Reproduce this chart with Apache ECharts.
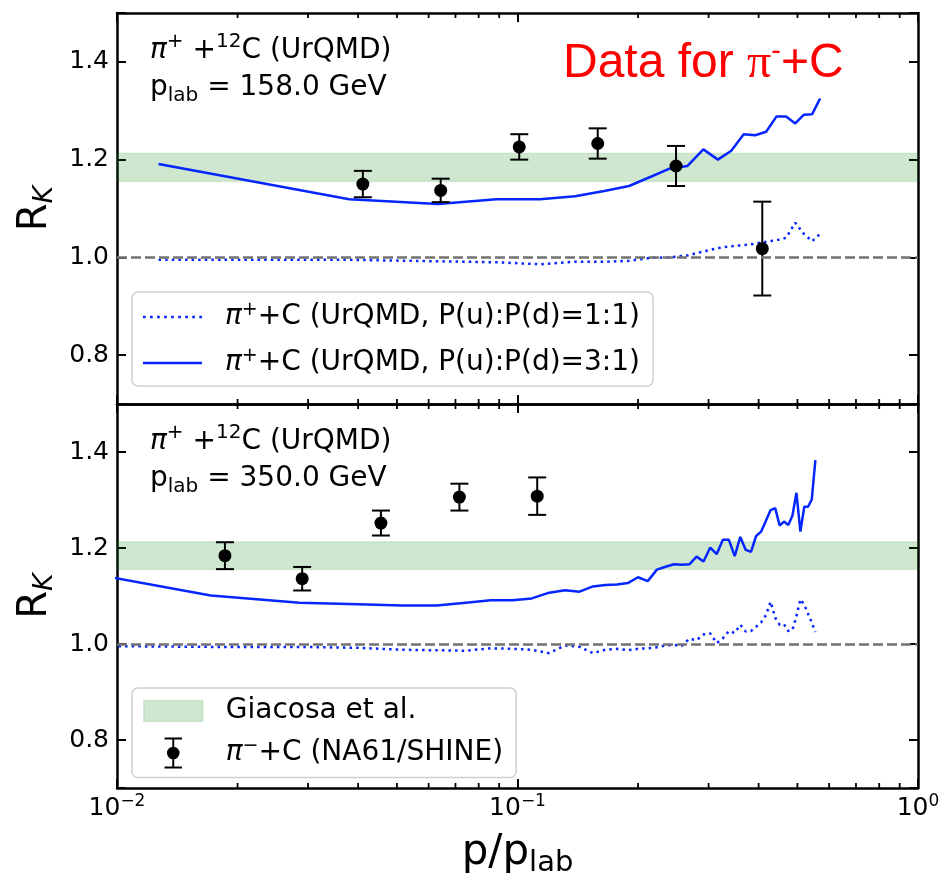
<!DOCTYPE html>
<html>
<head>
<meta charset="utf-8">
<script src="https://cdn.jsdelivr.net/npm/echarts@6/dist/echarts.min.js"></script>
<style>
  html, body { margin: 0; padding: 0; background: #ffffff; }
  #chart { width: 945px; height: 879px; }
</style>
</head>
<body>
<div id="chart"></div>
<script>
// ---------------- data ----------------
// UrQMD pi+ + C at 158 GeV: bin centres in p/p_lab
const xUrqmd158 = [0.0127, 0.0380, 0.0633, 0.0886, 0.1139, 0.1392, 0.1646, 0.1899, 0.2152, 0.2405,
  0.2658, 0.2911, 0.3165, 0.3418, 0.3671, 0.3924, 0.4177, 0.4430, 0.4684, 0.4937, 0.5190, 0.5443, 0.5696];
// R_K with P(u):P(d) = 1:1
const rk158Equal = [0.995, 0.995, 0.992, 0.990, 0.986, 0.991, 0.991, 0.993, 0.999, 1.000,
  1.004, 1.012, 1.019, 1.023, 1.025, 1.028, 1.032, 1.035, 1.040, 1.071, 1.048, 1.033, 1.048];
// R_K with P(u):P(d) = 3:1
const rk158Skewed = [1.191, 1.119, 1.109, 1.119, 1.119, 1.125, 1.136, 1.146, 1.165, 1.182,
  1.187, 1.221, 1.200, 1.218, 1.252, 1.250, 1.257, 1.288, 1.288, 1.274, 1.292, 1.293, 1.325];

// UrQMD pi+ + C at 350 GeV
const xUrqmd350 = [0.00571, 0.01714, 0.02857, 0.04000, 0.05143, 0.06286, 0.07429, 0.08571, 0.09714, 0.10857,
  0.12000, 0.13143, 0.14286, 0.15429, 0.16571, 0.17714, 0.18857, 0.20000, 0.21143, 0.22286,
  0.23429, 0.24571, 0.25714, 0.26857, 0.28000, 0.29143, 0.30286, 0.31429, 0.32571, 0.33714,
  0.34857, 0.36000, 0.37143, 0.38286, 0.39429, 0.40571, 0.41714, 0.42857, 0.44000, 0.45143,
  0.46286, 0.47429, 0.48571, 0.49714, 0.50857, 0.52000, 0.53143, 0.54286, 0.55429];
const rk350Equal = [0.997, 0.994, 0.994, 0.992, 0.988, 0.987, 0.986, 0.991, 0.990, 0.988,
  0.981, 0.997, 0.994, 0.981, 0.988, 0.990, 0.987, 0.990, 0.991, 0.993,
  0.997, 0.998, 0.996, 1.011, 1.008, 1.020, 1.022, 1.002, 1.012, 1.027,
  1.023, 1.040, 1.026, 1.027, 1.036, 1.045, 1.060, 1.088, 1.055, 1.040,
  1.041, 1.027, 1.029, 1.058, 1.093, 1.082, 1.063, 1.045, 1.025];
const rk350Skewed = [1.174, 1.101, 1.086, 1.083, 1.080, 1.080, 1.086, 1.091, 1.091, 1.095,
  1.107, 1.112, 1.109, 1.120, 1.123, 1.124, 1.127, 1.139, 1.131, 1.155,
  1.161, 1.166, 1.165, 1.166, 1.182, 1.172, 1.201, 1.187, 1.217, 1.217,
  1.183, 1.223, 1.196, 1.192, 1.225, 1.234, 1.257, 1.279, 1.283, 1.247,
  1.255, 1.248, 1.267, 1.315, 1.234, 1.286, 1.286, 1.301, 1.383];

// NA61/SHINE pi- + C measurements
const xNa61_158 = [0.0411, 0.0643, 0.1010, 0.1586, 0.2488, 0.4085];
const rkNa61_158 = [1.150, 1.137, 1.226, 1.233, 1.187, 1.018];
const errNa61_158 = [0.027, 0.024, 0.026, 0.031, 0.041, 0.096];
const xNa61_350 = [0.0186, 0.0290, 0.0456, 0.0716, 0.1120];
const rkNa61_350 = [1.184, 1.136, 1.252, 1.306, 1.308];
const errNa61_350 = [0.028, 0.0245, 0.026, 0.028, 0.039];

// Giacosa et al. prediction band and the R_K = 1 reference
const giacosaBand = [1.155, 1.213];
const referenceLevel = 1.0;

// axis ranges and minor log ticks
const xRange = [0.01, 1];
const yRange = [0.7, 1.5];
const minorTickValues = [0.02, 0.03, 0.04, 0.05, 0.06, 0.07, 0.08, 0.09,
  0.2, 0.3, 0.4, 0.5, 0.6, 0.7, 0.8, 0.9];
const beamMomenta = ['158.0', '350.0'];

// ---------------- styling ----------------
const FONT = 'DejaVu Sans';
const BLUE = '#0526ff';
const NAME_EQUAL = 'π⁺+C (UrQMD, P(u):P(d)=1:1)';
const NAME_SKEWED = 'π⁺+C (UrQMD, P(u):P(d)=3:1)';
const NAME_BAND = 'Giacosa et al.';
const NAME_NA61 = 'π⁻+C (NA61/SHINE)';
const legendLabels = {
  [NAME_EQUAL]: '{it|π}{sup|+}{n|+C (UrQMD, P(u):P(d)=1:1)}',
  [NAME_SKEWED]: '{it|π}{sup|+}{n|+C (UrQMD, P(u):P(d)=3:1)}',
  [NAME_BAND]: '{n|Giacosa et al.}',
  [NAME_NA61]: '{it|π}{sup|−}{n|+C (NA61/SHINE)}'
};
const textRich = {
  n: { fontFamily: FONT, fontSize: 28, lineHeight: 32, color: '#000' },
  it: { fontFamily: FONT, fontSize: 28, fontStyle: 'italic', lineHeight: 32, color: '#000' },
  sup: { fontFamily: FONT, fontSize: 19, lineHeight: 21, verticalAlign: 'top', color: '#000' },
  sub: { fontFamily: FONT, fontSize: 20, lineHeight: 24, verticalAlign: 'bottom', color: '#000' }
};

// legend handles: a solid stroke and a row of square dots, 59 px long
const solidHandle = 'path://M0,0h59v2.5h-59Z';
let dottedHandle = 'path://';
for (let px = 0; px + 2.5 <= 59; px += 6.6) {
  dottedHandle += 'M' + px.toFixed(1) + ',0h2.5v2.5h-2.5Z ';
}

const grids = [
  { left: 117, top: 13, width: 801, height: 391 },
  { left: 117, top: 404, width: 801, height: 391 }
];

const axisLine = { show: true, onZero: false, lineStyle: { color: '#000', width: 2.5 } };
const majorTick = { show: true, inside: true, length: 9, lineStyle: { color: '#000', width: 2 } };

function xAxisFor(grid, position, withLabels) {
  const ax = {
    type: 'log', logBase: 10, min: xRange[0], max: xRange[1], gridIndex: grid, position: position,
    axisLine: axisLine, axisTick: majorTick, splitLine: { show: false },
    axisLabel: { show: false }
  };
  if (withLabels) {
    ax.axisLabel = {
      show: true, margin: 5, color: '#000',
      formatter: function (v) {
        const e = Math.round(Math.log10(v));
        return '{b|10}{s|' + (e < 0 ? '−' + (-e) : e) + '}';
      },
      rich: {
        b: { fontFamily: FONT, fontSize: 25, lineHeight: 30, color: '#000' },
        s: { fontFamily: FONT, fontSize: 17, lineHeight: 18, verticalAlign: 'top', color: '#000' }
      }
    };
    ax.name = '{n|p/p}{sub|lab}';
    ax.nameLocation = 'middle';
    ax.nameGap = 40;
    ax.nameTextStyle = {
      rich: {
        n: { fontFamily: FONT, fontSize: 42, lineHeight: 50, color: '#000' },
        sub: { fontFamily: FONT, fontSize: 29, lineHeight: 34, verticalAlign: 'bottom', color: '#000' }
      }
    };
  }
  return ax;
}

function yAxisFor(grid, position, withLabels) {
  const ax = {
    type: 'value', min: yRange[0], max: yRange[1], splitNumber: 4, gridIndex: grid, position: position,
    axisLine: axisLine, axisTick: majorTick, splitLine: { show: false },
    axisLabel: { show: false }
  };
  if (withLabels) {
    ax.axisLabel = {
      show: true, margin: 8, color: '#000', fontFamily: FONT, fontSize: 25,
      formatter: function (v) {
        const r = Math.round(v * 10);
        return (r % 2 === 0) ? v.toFixed(1) : '';
      }
    };
    ax.name = '{n|R}{sub|K}';
    ax.nameLocation = 'middle';
    ax.nameRotate = 90;
    ax.nameGap = 58;
    ax.nameTextStyle = {
      rich: {
        n: { fontFamily: FONT, fontSize: 40, lineHeight: 46, color: '#000' },
        sub: { fontFamily: FONT, fontSize: 27, fontStyle: 'italic', lineHeight: 30, verticalAlign: 'bottom', color: '#000' }
      }
    };
  }
  return ax;
}

const xAxes = [], yAxes = [];
for (let g = 0; g < 2; g++) {
  xAxes.push(xAxisFor(g, 'bottom', g === 1));
  xAxes.push(xAxisFor(g, 'top', false));
  yAxes.push(yAxisFor(g, 'left', true));
  yAxes.push(yAxisFor(g, 'right', false));
}

function zip(xs, ys) { return xs.map((x, i) => [x, ys[i]]); }

function panelSeries(g, xs, eq, skewed, nx, ny, ne) {
  const xi = g * 2, yi = g * 2;
  return [
    {
      name: NAME_BAND, type: 'line', xAxisIndex: xi, yAxisIndex: yi, data: [],
      itemStyle: { color: 'rgba(0,128,0,0.19)' },
      markArea: {
        silent: true,
        itemStyle: { color: 'rgba(0,128,0,0.19)', borderColor: 'rgba(0,128,0,0.10)', borderWidth: 1.5 },
        data: [[{ yAxis: giacosaBand[0] }, { yAxis: giacosaBand[1] }]]
      },
      markLine: {
        silent: true, symbol: ['none', 'none'], label: { show: false },
        lineStyle: { color: '#727272', type: [10, 4], width: 2.5 },
        data: [{ yAxis: referenceLevel }]
      },
      z: 1
    },
    {
      name: NAME_EQUAL, type: 'line', xAxisIndex: xi, yAxisIndex: yi,
      data: zip(xs, eq), symbol: 'none', showSymbol: false,
      lineStyle: { color: BLUE, width: 2.5, type: [2.5, 4.1] }, itemStyle: { color: BLUE }, z: 3
    },
    {
      name: NAME_SKEWED, type: 'line', xAxisIndex: xi, yAxisIndex: yi,
      data: zip(xs, skewed), symbol: 'none', showSymbol: false,
      lineStyle: { color: BLUE, width: 2.5 }, itemStyle: { color: BLUE }, z: 3
    },
    {
      name: 'NA61 uncertainties', type: 'custom', xAxisIndex: xi, yAxisIndex: yi,
      data: nx.map((x, i) => [x, ny[i] - ne[i], ny[i] + ne[i]]),
      encode: { x: 0, y: [1, 2] },
      renderItem: function (params, api) {
        const x = api.value(0);
        const a = api.coord([x, api.value(1)]);
        const b = api.coord([x, api.value(2)]);
        const st = { stroke: '#000', lineWidth: 2 };
        return {
          type: 'group', children: [
            { type: 'line', shape: { x1: a[0], y1: a[1], x2: b[0], y2: b[1] }, style: st },
            { type: 'line', shape: { x1: a[0] - 9, y1: a[1], x2: a[0] + 9, y2: a[1] }, style: st },
            { type: 'line', shape: { x1: b[0] - 9, y1: b[1], x2: b[0] + 9, y2: b[1] }, style: st }
          ]
        };
      },
      z: 4
    },
    {
      name: NAME_NA61, type: 'scatter', xAxisIndex: xi, yAxisIndex: yi,
      data: zip(nx, ny), symbol: 'circle', symbolSize: 13,
      itemStyle: { color: '#000', opacity: 1 }, z: 5
    },
    {
      name: 'minor ticks', type: 'custom', xAxisIndex: xi, yAxisIndex: yi, silent: true,
      data: minorTickValues.map(v => [v, 1]),
      renderItem: function (params, api) {
        const v = api.value(0);
        const b = api.coord([v, yRange[0]]);
        const t = api.coord([v, yRange[1]]);
        const st = { stroke: '#000', lineWidth: 1.8 };
        return {
          type: 'group', children: [
            { type: 'line', shape: { x1: b[0], y1: b[1], x2: b[0], y2: b[1] - 5 }, style: st },
            { type: 'line', shape: { x1: t[0], y1: t[1], x2: t[0], y2: t[1] + 5 }, style: st }
          ]
        };
      },
      z: 6
    }
  ];
}

const series = [].concat(
  panelSeries(0, xUrqmd158, rk158Equal, rk158Skewed, xNa61_158, rkNa61_158, errNa61_158),
  panelSeries(1, xUrqmd350, rk350Equal, rk350Skewed, xNa61_350, rkNa61_350, errNa61_350)
);

const legendBase = {
  orient: 'vertical', left: 132,
  backgroundColor: 'rgba(255,255,255,0.85)', borderColor: '#cfcfcf', borderWidth: 1.5, borderRadius: 6,
  selectedMode: false,
  formatter: function (name) { return legendLabels[name] || name; },
  textStyle: { padding: [0, 0, 0, 18], rich: textRich }
};

const option = {
  animation: false,
  backgroundColor: '#ffffff',
  grid: grids,
  xAxis: xAxes,
  yAxis: yAxes,
  legend: [
    Object.assign({}, legendBase, {
      top: 292, itemGap: 16, itemWidth: 59, itemHeight: 32, padding: [9, 13, 9, 11],
      data: [
        { name: NAME_EQUAL, icon: dottedHandle, itemStyle: { color: BLUE, opacity: 1 } },
        { name: NAME_SKEWED, icon: solidHandle, itemStyle: { color: BLUE, opacity: 1 } }
      ]
    }),
    Object.assign({}, legendBase, {
      top: 688, itemGap: 12, itemWidth: 59, itemHeight: 31, padding: [9, 13, 9, 11],
      data: [
        { name: NAME_BAND, icon: 'path://M0,0h59v21h-59Z',
          itemStyle: { color: 'rgba(0,128,0,0.19)', borderColor: 'rgba(0,128,0,0.12)', borderWidth: 1.5, opacity: 1 } },
        { name: NAME_NA61,
          icon: 'path://M20.5,0h18v2h-18Z M20.5,30h18v2h-18Z M28.5,0h2v32h-2Z M23,16a6.5,6.5 0 1,1 13,0a6.5,6.5 0 1,1 -13,0Z',
          itemStyle: { color: '#000', opacity: 1 } }
      ]
    })
  ],
  graphic: [
    {
      type: 'text', left: 150, top: 32, silent: true,
      style: {
        text: '{it|π}{sup|+}{n| +}{sup|12}{n|C (UrQMD)}\n{n|p}{sub|lab}{n| = ' + beamMomenta[0] + ' GeV}',
        rich: {
          n: { fontFamily: FONT, fontSize: 28, lineHeight: 37, fill: '#000' },
          it: { fontFamily: FONT, fontSize: 28, fontStyle: 'italic', lineHeight: 37, fill: '#000' },
          sup: { fontFamily: FONT, fontSize: 20, lineHeight: 23, verticalAlign: 'top', fill: '#000' },
          sub: { fontFamily: FONT, fontSize: 20, lineHeight: 25, verticalAlign: 'bottom', fill: '#000' }
        }
      }
    },
    {
      type: 'text', left: 150, top: 423, silent: true,
      style: {
        text: '{it|π}{sup|+}{n| +}{sup|12}{n|C (UrQMD)}\n{n|p}{sub|lab}{n| = ' + beamMomenta[1] + ' GeV}',
        rich: {
          n: { fontFamily: FONT, fontSize: 28, lineHeight: 37, fill: '#000' },
          it: { fontFamily: FONT, fontSize: 28, fontStyle: 'italic', lineHeight: 37, fill: '#000' },
          sup: { fontFamily: FONT, fontSize: 20, lineHeight: 23, verticalAlign: 'top', fill: '#000' },
          sub: { fontFamily: FONT, fontSize: 20, lineHeight: 25, verticalAlign: 'bottom', fill: '#000' }
        }
      }
    },
    {
      type: 'text', left: 563, top: 37, silent: true,
      style: {
        text: '{d|Data for }{p|π}{s|-}{d|+C}',
        rich: {
          d: { fontFamily: 'Liberation Sans', fontSize: 48, lineHeight: 54, fill: '#ff0000' },
          p: { fontFamily: 'Liberation Serif', fontSize: 48, lineHeight: 54, fill: '#ff0000' },
          s: { fontFamily: 'Liberation Sans', fontSize: 29, lineHeight: 31, verticalAlign: 'top', fill: '#ff0000' }
        }
      }
    }
  ],
  series: series
};

const chart = echarts.init(document.getElementById('chart'), null, { renderer: 'canvas' });
chart.setOption(option);
</script>
</body>
</html>
